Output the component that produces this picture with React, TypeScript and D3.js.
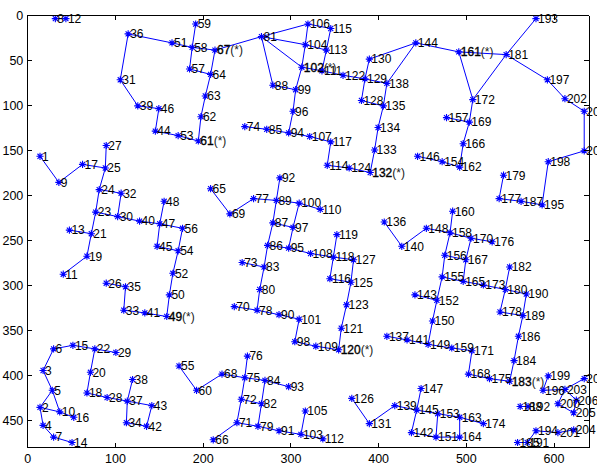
import { useEffect, useRef } from "react";
import * as d3 from "d3";

// node positions, node i+1 sits at (nodeX[i], nodeY[i])
const nodeX = [
  14.5, 14.5, 18, 18, 28.5, 30, 30, 32, 36, 37,
  41, 44, 48, 51, 52, 53, 63, 68, 68, 72,
  73, 77, 78, 82, 89, 90, 90, 91, 101, 103,
  106, 107, 110, 113, 112, 115, 114, 120, 126, 128,
  134, 136, 142, 146, 148, 150, 151, 156, 159, 162,
  165, 166, 172, 172, 173, 177, 185, 188, 192, 193,
  195, 198, 203, 209, 209, 212, 214, 222, 231, 236,
  239, 244, 245, 248, 248, 251, 258, 262, 263, 265,
  267, 267, 270, 271, 273, 274, 280, 280, 284, 287,
  287, 288, 298, 298, 298, 303, 303, 305, 306, 310,
  310, 313, 312, 317, 317, 320, 322, 323, 329, 334,
  336, 337, 341, 342, 346, 345, 346, 349, 353, 355,
  358, 360, 364, 367, 369, 370, 372, 381, 385, 390,
  390, 391, 396, 400, 406, 407, 410, 410, 419, 427,
  433, 438, 442, 443, 444, 445, 449, 455, 457, 462,
  466, 467, 468, 473, 473, 476, 478, 482, 484, 485,
  492, 493, 493, 493, 497, 497, 500, 503, 504, 506,
  507, 508, 520, 520, 527, 530, 538, 539, 543, 545,
  546, 550, 550, 555, 559, 560, 563, 562, 565, 569,
  570, 571, 580, 580, 587, 588, 593, 594, 594, 605,
  605, 613, 613, 623, 623, 626, 635, 635, 635,
];
const nodeY = [
  157, 436, 395, 456, 417, 371, 469, 4, 186, 441,
  288, 4, 239, 475, 367, 447, 166, 420, 268, 397,
  243, 371, 219, 194, 170, 298, 145, 425, 375, 224,
  72, 198, 328, 453, 302, 21, 429, 405, 101, 229,
  331, 457, 434, 129, 257, 104, 232, 207, 335, 311,
  31, 287, 134, 262, 390, 237, 60, 36, 10, 417,
  140, 113, 90, 66, 193, 472, 39, 399, 221, 324,
  453, 427, 275, 124, 403, 379, 204, 328, 457, 305,
  24, 432, 280, 406, 127, 256, 231, 78, 206, 333,
  462, 181, 413, 131, 259, 107, 236, 363, 83, 209,
  338, 58, 466, 33, 440, 10, 135, 265, 368, 216,
  62, 471, 39, 167, 15, 293, 141, 269, 244, 372,
  348, 67, 322, 170, 297, 426, 272, 95, 71, 49,
  454, 175, 150, 125, 101, 230, 357, 76, 434, 257,
  361, 464, 311, 31, 439, 157, 415, 237, 366, 340,
  469, 317, 443, 163, 291, 267, 114, 242, 370, 218,
  41, 169, 447, 469, 296, 143, 272, 399, 119, 248,
  373, 94, 300, 454, 404, 252, 204, 330, 178, 305,
  44, 280, 407, 384, 475, 357, 207, 435, 334, 310,
  475, 435, 4, 462, 211, 417, 72, 163, 401, 432,
  464, 93, 416, 461, 442, 428, 107, 151, 404,
];

const edges = [
  [8, 12], [36, 31], [36, 51], [31, 39], [39, 46], [46, 44], [44, 53], [53, 61],
  [61, 62], [62, 63], [63, 64], [64, 57], [64, 67], [57, 58], [58, 59], [58, 51],
  [58, 67], [67, 81], [81, 88], [81, 106], [81, 104], [81, 102], [88, 99],
  [74, 85], [85, 94], [94, 96], [96, 99], [99, 102], [102, 104], [104, 106],
  [106, 115], [115, 113], [104, 113], [113, 111], [102, 111], [111, 122],
  [122, 129], [129, 130], [129, 128], [129, 138], [130, 144], [144, 138],
  [138, 135], [128, 135], [135, 134], [134, 133], [133, 132], [94, 107],
  [107, 117], [117, 114], [114, 124], [124, 132], [144, 161], [161, 181],
  [161, 172], [172, 181], [181, 193], [181, 197], [197, 202], [202, 207],
  [207, 208], [208, 198], [198, 195], [195, 187], [187, 177], [177, 179],
  [172, 169], [169, 157], [169, 166], [166, 162], [162, 154], [154, 146],
  [27, 25], [1, 9], [9, 17], [17, 25], [25, 24], [24, 32], [24, 23], [32, 30],
  [23, 30], [30, 40], [23, 21], [13, 21], [21, 19], [19, 11], [40, 47],
  [26, 35], [35, 33], [33, 41], [41, 49], [49, 50], [50, 52], [52, 54],
  [54, 45], [54, 56], [45, 47], [47, 48], [47, 56],
  [65, 69], [69, 77], [77, 89], [89, 92], [89, 87], [89, 100], [100, 110],
  [100, 97], [87, 97], [87, 86], [97, 95], [86, 95], [86, 83], [73, 83],
  [83, 80], [80, 78], [70, 78], [78, 90], [90, 101], [101, 98], [98, 109],
  [109, 120], [120, 121], [121, 123], [123, 125], [125, 116], [125, 127],
  [116, 118], [118, 119], [118, 127], [95, 108], [108, 118],
  [136, 140], [140, 148], [148, 158], [158, 160], [158, 170], [170, 176],
  [158, 156], [170, 167], [156, 167], [156, 155], [167, 165], [155, 165],
  [165, 173], [173, 180], [180, 182], [180, 190], [180, 178], [178, 189],
  [190, 189], [189, 186], [186, 184], [184, 183], [183, 175], [175, 168],
  [168, 171], [171, 159], [159, 149], [149, 141], [141, 137], [149, 150],
  [150, 152], [152, 155], [143, 152],
  [199, 196], [196, 203], [203, 209], [203, 200], [203, 206], [200, 205],
  [206, 205], [194, 201], [201, 204], [194, 191], [191, 185], [188, 192],
  [163, 174], [163, 164], [163, 153], [164, 151], [153, 151], [153, 145],
  [145, 139], [145, 147], [145, 142], [142, 151], [139, 131], [131, 126],
  [103, 105], [103, 112], [103, 91], [91, 79], [79, 71], [71, 66], [71, 72],
  [72, 75], [72, 82], [82, 79], [82, 84], [75, 76], [75, 84], [75, 68],
  [68, 60], [60, 55], [84, 93],
  [43, 42], [37, 43], [37, 34], [34, 42], [37, 38], [37, 28], [28, 18],
  [18, 20], [20, 22], [22, 15], [22, 29], [15, 6], [6, 3], [3, 5], [5, 2],
  [5, 10], [2, 10], [10, 16], [2, 4], [4, 7], [7, 14],
];

const rootNodes = [49, 61, 67, 102, 120, 132, 161, 183];

const xTicks = [0, 100, 200, 300, 400, 500, 600];
const yTicks = [0, 50, 100, 150, 200, 250, 300, 350, 400, 450];

const starPath = (r) => {
  const d = r * 0.7071;
  return `M${-r},0L${r},0M0,${-r}L0,${r}M${-d},${-d}L${d},${d}M${-d},${d}L${d},${-d}`;
};

export default function App() {
  const svgRef = useRef(null);

  useEffect(() => {
    const width = 597;
    const height = 463;
    const margin = { left: 27.3, right: 8.4, top: 15, bottom: 16 };

    const svg = d3.select(svgRef.current);
    svg.selectAll("*").remove();

    const x = d3.scaleLinear().domain([0, 640]).range([margin.left, width - margin.right]);
    const y = d3.scaleLinear().domain([0, 480]).range([margin.top, height - margin.bottom]);

    const font = "'Liberation Sans', Arial, Helvetica, sans-serif";

    // edges
    const nodes = nodeX.map((v, i) => ({ id: i + 1, x: v, y: nodeY[i] }));
    svg
      .append("g")
      .selectAll("line")
      .data(edges)
      .enter()
      .append("line")
      .attr("x1", (d) => x(nodes[d[0] - 1].x))
      .attr("y1", (d) => y(nodes[d[0] - 1].y))
      .attr("x2", (d) => x(nodes[d[1] - 1].x))
      .attr("y2", (d) => y(nodes[d[1] - 1].y))
      .attr("stroke", "#0000ff")
      .attr("stroke-width", 1);

    // markers
    svg
      .append("g")
      .selectAll("path")
      .data(nodes)
      .enter()
      .append("path")
      .attr("transform", (d) => `translate(${x(d.x)},${y(d.y)})`)
      .attr("d", starPath(3.6))
      .attr("stroke", "#0000ff")
      .attr("stroke-width", 1.1)
      .attr("fill", "none");

    // labels, root nodes get a "(*)" suffix and a heavier number
    const labels = svg.append("g").style("font-family", font).style("font-size", "12px");
    const txt = labels
      .selectAll("text")
      .data(nodes)
      .enter()
      .append("text")
      .attr("x", (d) => x(d.x) + 2)
      .attr("y", (d) => y(d.y))
      .attr("dy", "0.36em")
      .attr("fill", "#000");
    txt
      .append("tspan")
      .attr("stroke", (d) => (rootNodes.includes(d.id) ? "#000" : "none"))
      .attr("stroke-width", 0.35)
      .text((d) => d.id);
    txt
      .filter((d) => rootNodes.includes(d.id))
      .append("tspan")
      .attr("fill", "#222")
      .text("(*)");

    // axes box
    const axes = svg.append("g").attr("shape-rendering", "crispEdges");
    const bottom = axes
      .append("g")
      .attr("transform", `translate(0,${height - margin.bottom})`)
      .call(d3.axisBottom(x).tickValues(xTicks).tickSizeInner(-4.5).tickSizeOuter(0).tickPadding(7.5));
    const left = axes
      .append("g")
      .attr("transform", `translate(${margin.left},0)`)
      .call(d3.axisLeft(y).tickValues(yTicks).tickSizeInner(-4.5).tickSizeOuter(0).tickPadding(4));
    axes
      .append("g")
      .attr("transform", `translate(0,${margin.top})`)
      .call(d3.axisTop(x).tickValues(xTicks).tickSizeInner(-4.5).tickSizeOuter(0).tickFormat(() => ""));
    axes
      .append("g")
      .attr("transform", `translate(${width - margin.right},0)`)
      .call(d3.axisRight(y).tickValues(yTicks).tickSizeInner(-4.5).tickSizeOuter(0).tickFormat(() => ""));

    axes.selectAll("path.domain").attr("stroke", "#000");
    axes.selectAll(".tick line").attr("stroke", "#000");
    [bottom, left].forEach((g) =>
      g
        .attr("font-family", font)
        .attr("font-size", 12.5)
        .selectAll("text")
        .attr("fill", "#000")
    );
  }, []);

  return (
    <svg
      ref={svgRef}
      width={597}
      height={463}
      style={{ position: "absolute", left: 0, top: 0, background: "#fff", overflow: "hidden" }}
    />
  );
}
